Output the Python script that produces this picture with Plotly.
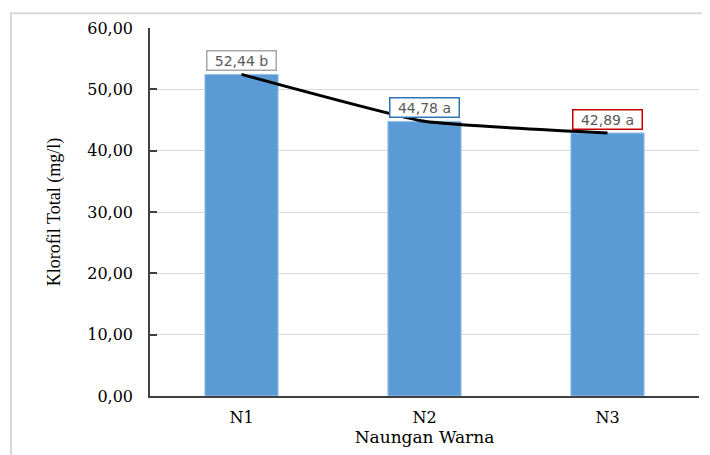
import plotly.graph_objects as go

categories = ["N1", "N2", "N3"]
values = [52.44, 44.78, 42.89]
letters = ["b", "a", "a"]
label_border_colors = ["#a6a6a6", "#2e75b6", "#c00000"]
y_ticks = [0, 10, 20, 30, 40, 50, 60]

fig = go.Figure()
fig.add_trace(go.Bar(
    x=categories, y=values, width=0.4,
    marker=dict(color="#5b9bd5", line=dict(color="#9dc3e6", width=1)),
    showlegend=False, hoverinfo="skip",
))
fig.add_trace(go.Scatter(
    x=categories, y=values, mode="lines",
    line=dict(color="#000000", width=3, shape="spline", smoothing=0.4),
    showlegend=False, hoverinfo="skip",
))

for c, v, l, bc in zip(categories, values, letters, label_border_colors):
    txt = f"{v:.2f}".replace(".", ",") + " " + l
    fig.add_annotation(
        x=c, y=v, text=txt, showarrow=False, yanchor="bottom", yshift=3,
        font=dict(family="DejaVu Sans", size=14, color="#595959"),
        bordercolor=bc, borderwidth=1.5, borderpad=1, bgcolor="#ffffff",
        width=66, height=16,
    )

# outer light border (top and left edges visible)
fig.add_shape(type="rect", xref="paper", yref="paper",
              x0=-0.2532, x1=1.2, y0=-0.3, y1=1.0404,
              line=dict(color="#d9d9d9", width=2), layer="below")

fig.update_layout(
    width=702, height=447,
    margin=dict(l=142, r=11, t=17, b=59),
    paper_bgcolor="#ffffff", plot_bgcolor="#ffffff",
    separators=",.",
    xaxis=dict(
        showline=True, linecolor="#404040", linewidth=1.5,
        ticks="", showgrid=False,
        ticklabelstandoff=6,
        tickfont=dict(family="DejaVu Serif", size=16, color="#000000"),
        title=dict(text="Naungan Warna", standoff=4,
                   font=dict(family="DejaVu Serif", size=17, color="#000000")),
    ),
    yaxis=dict(
        range=[0, 60], tickvals=y_ticks, tickformat=".2f",
        showline=True, linecolor="#404040", linewidth=1.5,
        ticks="inside", ticklen=7, tickcolor="#404040", tickwidth=1.5,
        ticklabelstandoff=12,
        showgrid=True, gridcolor="#d9d9d9", gridwidth=1,
        zeroline=False,
        tickfont=dict(family="DejaVu Serif", size=16, color="#000000"),
        title=dict(text="Klorofil Total (mg/l)", standoff=22,
                   font=dict(family="Liberation Serif", size=18, color="#000000")),
    ),
)

fig.write_html("out.html")
